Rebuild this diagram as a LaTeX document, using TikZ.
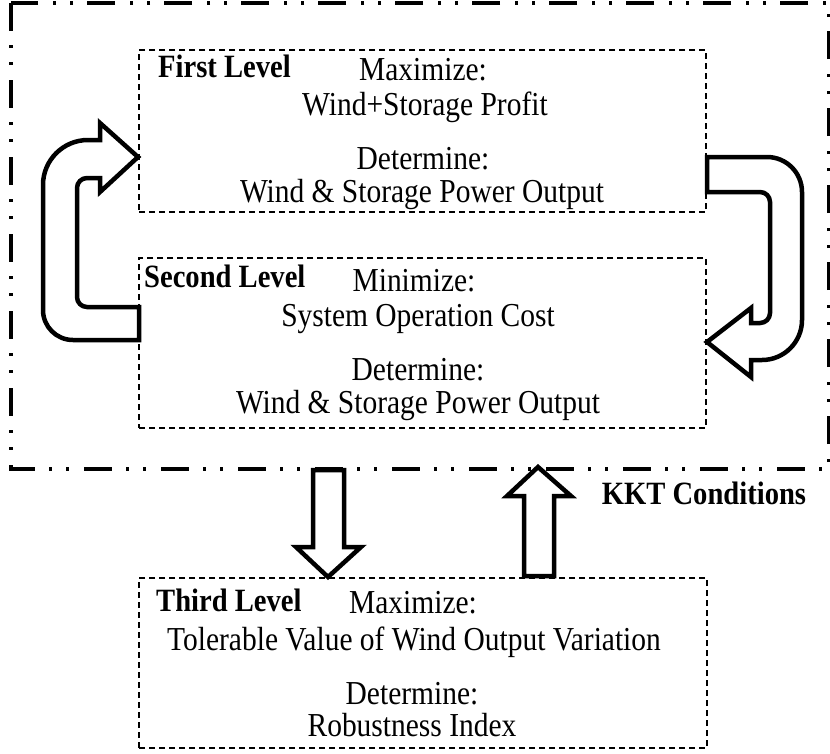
\documentclass[tikz,border=0pt]{standalone}
\usepackage{fontspec}
\setmainfont{Liberation Serif}[FakeStretch=0.88]
\usetikzlibrary{positioning}

\tikzset{
  levelbox/.style={draw, line width=2.8pt, dash pattern=on 6pt off 4pt, inner sep=0pt},
  lvltext/.style={anchor=base, inner sep=0pt, font=\fontsize{33.5}{40}\selectfont},
  lvlname/.style={anchor=base west, inner sep=0pt, font=\fontsize{32.5}{38}\selectfont\bfseries},
  bigarrow/.style={draw, fill=white, line width=4.5pt, line join=miter, miter limit=20},
  outerframe/.style={line width=4pt, dash pattern=on 28pt off 14pt on 3pt off 14pt on 3pt off 15pt}
}

\begin{document}
\begin{tikzpicture}[x=1pt,y=-1pt]
\useasboundingbox (0,0) rectangle (830,753);
\draw[outerframe] (11,3) rectangle (829,469);

% the three levels
\node[levelbox, minimum width=567pt, minimum height=162pt] (lvlone) at (422.5,131) {};
\node[levelbox, minimum width=567pt, minimum height=170pt] (lvltwo) at (422.5,343) {};
\node[levelbox, minimum width=568pt, minimum height=170pt] (lvlthree) at (423,663) {};

\node[lvlname] (nameone) at (158,77) {First Level};
\node[lvltext] (maxone) at (423,80) {Maximize:};
\node[lvltext] (objone) at (425,115) {Wind+Storage Profit};
\node[lvltext] (detone) at (423,169) {Determine:};
\node[lvltext] (varone) at (422,202) {Wind \& Storage Power Output};

\node[lvlname] (nametwo) at (144,287) {Second Level};
\node[lvltext] (mintwo) at (414,291) {Minimize:};
\node[lvltext] (objtwo) at (418,326) {System Operation Cost};
\node[lvltext] (dettwo) at (418,380) {Determine:};
\node[lvltext] (vartwo) at (418,413) {Wind \& Storage Power Output};

\node[lvlname] (namethree) at (156,611) {Third Level};
\node[lvltext] (maxthree) at (413,613) {Maximize:};
\node[lvltext] (objthree) at (414,650) {Tolerable Value of Wind Output Variation};
\node[lvltext] (detthree) at (412,704) {Determine:};
\node[lvltext] (varthree) at (412,736) {Robustness Index};

\node[lvlname, anchor=base] (kkt) at (704,504) {KKT Conditions};

% curved arrows between first and second level
\draw[bigarrow] (139,340) [rounded corners=30pt] -- (43,340) [rounded corners=45pt] -- (43,140)
  [sharp corners] -- (100,140) -- (100,123) -- (138,157) -- (100,192) -- (100,178)
  [rounded corners=10pt] -- (77,178) -- (77,307) [sharp corners] -- (139,307) -- cycle;
\draw[bigarrow] (707,157) [rounded corners=35pt] -- (802,157) [rounded corners=40pt] -- (802,360)
  [sharp corners] -- (751,360) -- (751,377) -- (707,342) -- (751,308) -- (751,323)
  [rounded corners=10pt] -- (770,323) -- (770,192) [sharp corners] -- (707,192) -- cycle;

% block arrows to and from the third level
\draw[bigarrow] (313,470) -- (313,547) -- (296,547) -- (328,577) -- (361,547) -- (344,547) -- (344,470) -- cycle;
\draw[bigarrow] (524,576) -- (524,496) -- (507,496) -- (538,467) -- (571,496) -- (554,496) -- (554,576) -- cycle;
\end{tikzpicture}
\end{document}
